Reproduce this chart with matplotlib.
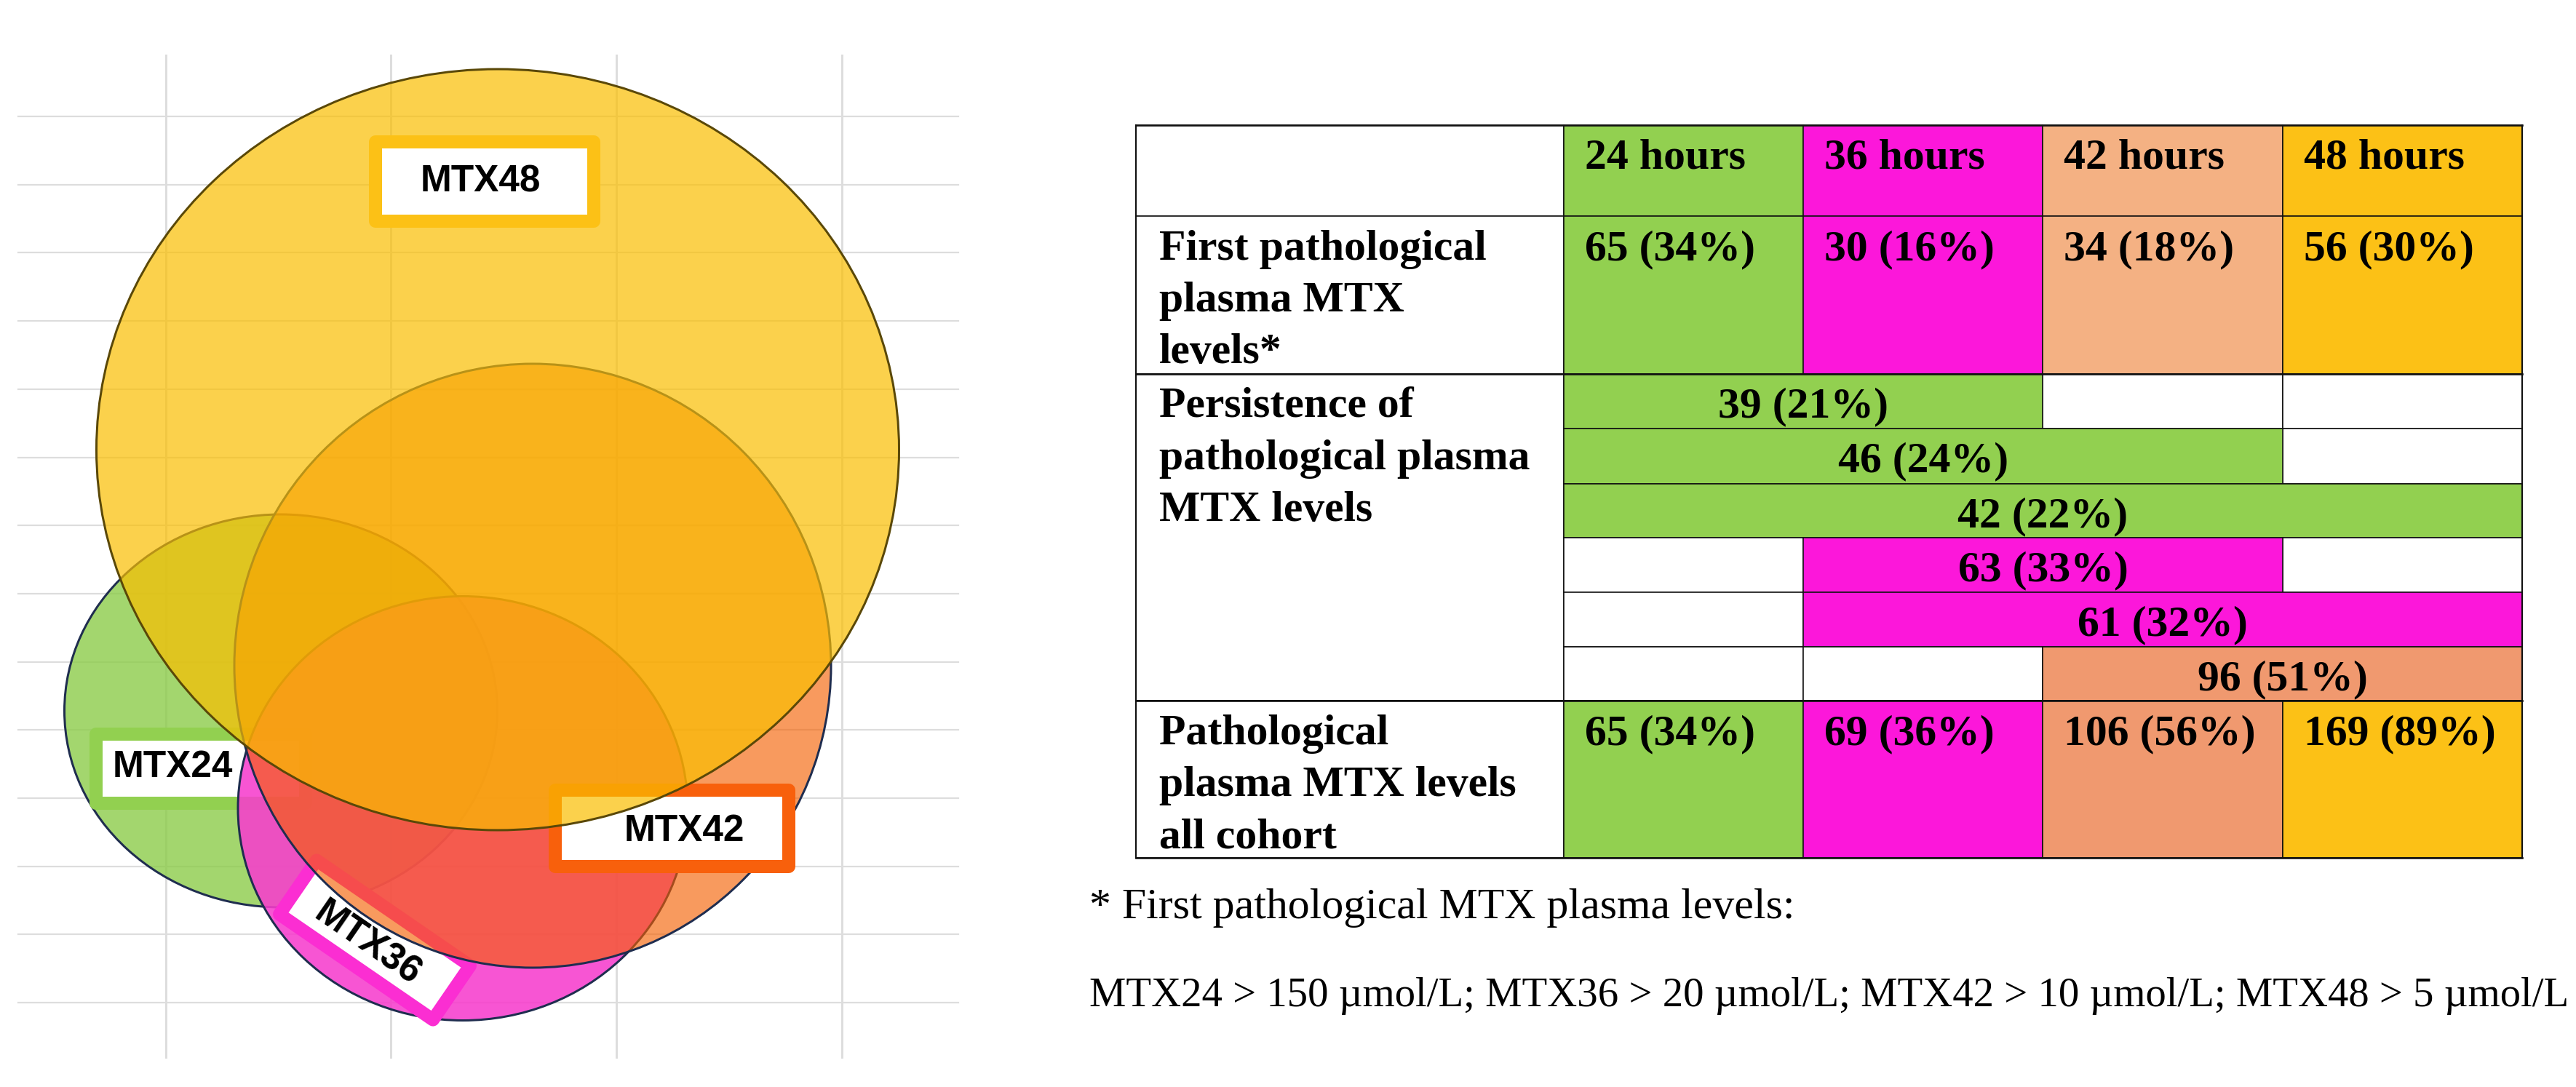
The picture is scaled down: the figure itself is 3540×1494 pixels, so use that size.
import matplotlib.pyplot as plt
from matplotlib.patches import Ellipse, Rectangle

# Dados da tabela
horas = ['24 hours', '36 hours', '42 hours', '48 hours']
primeiro_n = [65, 30, 34, 56]
primeiro_pct = [34, 16, 18, 30]
persist_n = [39, 46, 42, 63, 61, 96]
persist_pct = [21, 24, 22, 33, 32, 51]
persist_inicio = [0, 0, 0, 1, 1, 2]
persist_fim = [2, 3, 4, 3, 4, 4]
total_n = [65, 69, 106, 169]
total_pct = [34, 36, 56, 89]
limites = [150, 20, 10, 5]
rotulos_linhas = ['First pathological\nplasma MTX\nlevels*',
                  'Persistence of\npathological plasma\nMTX levels',
                  'Pathological\nplasma MTX levels\nall cohort']
rotulos_venn = ['MTX24', 'MTX36', 'MTX42', 'MTX48']

# Cores
verde = '#92D050'
magenta = '#FC17DA'
salmao_claro = '#F4B183'
salmao = '#F0996F'
amarelo = '#FCC116'
cores_cab = [verde, magenta, salmao_claro, amarelo]
cores_total = [verde, magenta, salmao, amarelo]
cores_persist = [verde, magenta, salmao]

PX = 0.72  # pixels -> pontos (dpi 100)

fig = plt.figure(figsize=(35.4, 14.94), dpi=100)
ax = fig.add_axes([0, 0, 1, 1])
ax.set_xlim(0, 3540)
ax.set_ylim(1494, 0)
ax.axis('off')

# ---------------- Diagrama (lado esquerdo) ----------------
# grade de fundo
for k in range(14):
    y = 160 + k * 93.7
    ax.plot([25, 1317], [y, y], color='#DDDDDD', lw=2.2 * PX, zorder=0)
for x in [228, 537, 847, 1157]:
    ax.plot([x, x], [76, 1453], color='#DDDDDD', lw=3 * PX, zorder=0)

# elipses: centro, largura, altura, cor, alfa, borda
elipses = [
    ((386, 977), 595, 540, '#8CCC4A', 0.80, '#1F2D4F'),
    ((636, 1111), 618, 583, '#F73DCD', 0.88, '#1F2D4F'),
    ((732, 915), 820, 830, '#F45F00', 0.63, '#1F2D4F'),
    ((684, 618), 1103, 1046, '#FABE00', 0.70, '#5A4808'),
]

def caixa(x0, y0, x1, y1, cor, ang=0, z=1):
    r = Rectangle((x0, y0), x1 - x0, y1 - y0, angle=ang, rotation_point='center',
                  facecolor='white', edgecolor=cor, lw=18 * PX, joinstyle='round', zorder=z)
    ax.add_patch(r)

def elipse(i, z):
    (c, w, h, cor, a, borda) = elipses[i]
    ax.add_patch(Ellipse(c, w, h, facecolor=cor, alpha=a, edgecolor='none', zorder=z))
    ax.add_patch(Ellipse(c, w, h, facecolor='none', edgecolor=borda, lw=3 * PX, zorder=z))

fonte_venn = dict(family='Liberation Sans', weight='bold', fontsize=37, color='black',
                  ha='center', va='center', zorder=10)

elipse(0, 1)                                                  # verde
caixa(132, 1009, 420, 1104, verde, z=2)
elipse(1, 3)                                                  # magenta
caixa(387, 1247, 643, 1337, '#FB2ED2', ang=34.5, z=4)
elipse(2, 5)                                                  # laranja
caixa(763, 1086, 1084, 1191, '#F8600C', z=6)
elipse(3, 7)                                                  # amarelo
caixa(516, 195, 816, 304, amarelo, z=8)

ax.text(237, 1055, rotulos_venn[0], **fonte_venn)
ax.text(505, 1297, rotulos_venn[1], rotation=-34.5, rotation_mode='anchor', **fonte_venn)
ax.text(940, 1143, rotulos_venn[2], **fonte_venn)
ax.text(660, 250, rotulos_venn[3], **fonte_venn)

# ---------------- Tabela (lado direito) ----------------
colunas = [1561, 2149, 2478, 2807, 3137, 3466]
linhas = [172, 297, 514, 589, 665, 739, 814, 889, 963, 1179]
fonte_tab = dict(family='Liberation Serif', weight='bold', fontsize=43, color='black',
                 va='baseline', zorder=12)
LW = 1.6 * PX

def celula(x0, x1, y0, y1, cor):
    ax.add_patch(Rectangle((x0, y0), x1 - x0, y1 - y0, facecolor=cor,
                           edgecolor='#111111', lw=LW, zorder=11))

def texto_multi(x, topo, s):
    for i, parte in enumerate(s.split('\n')):
        ax.text(x, topo + 60 + i * 71, parte, ha='left', **fonte_tab)

# cabeçalho
celula(colunas[0], colunas[1], linhas[0], linhas[1], 'white')
for j, h in enumerate(horas):
    celula(colunas[j + 1], colunas[j + 2], linhas[0], linhas[1], cores_cab[j])
    texto_multi(colunas[j + 1] + 29, linhas[0], h)

# primeiros níveis patológicos
celula(colunas[0], colunas[1], linhas[1], linhas[2], 'white')
texto_multi(colunas[0] + 32, linhas[1], rotulos_linhas[0])
for j in range(4):
    celula(colunas[j + 1], colunas[j + 2], linhas[1], linhas[2], cores_cab[j])
    texto_multi(colunas[j + 1] + 29, linhas[1], f'{primeiro_n[j]} ({primeiro_pct[j]}%)')

# persistência
celula(colunas[0], colunas[1], linhas[2], linhas[8], 'white')
texto_multi(colunas[0] + 32, linhas[2], rotulos_linhas[1])
for i in range(6):
    y0, y1 = linhas[2 + i], linhas[3 + i]
    a, b = persist_inicio[i], persist_fim[i]
    for j in range(4):
        if j < a or j >= b:
            celula(colunas[j + 1], colunas[j + 2], y0, y1, 'white')
    celula(colunas[a + 1], colunas[b + 1], y0, y1, cores_persist[a])
    xc = (colunas[a + 1] + colunas[b + 1]) / 2
    ax.text(xc, y0 + 59, f'{persist_n[i]} ({persist_pct[i]}%)', ha='center', **fonte_tab)

# coorte total
celula(colunas[0], colunas[1], linhas[8], linhas[9], 'white')
texto_multi(colunas[0] + 32, linhas[8], rotulos_linhas[2])
for j in range(4):
    celula(colunas[j + 1], colunas[j + 2], linhas[8], linhas[9], cores_total[j])
    texto_multi(colunas[j + 1] + 29, linhas[8], f'{total_n[j]} ({total_pct[j]}%)')

# separadores mais grossos entre grupos
for y in [linhas[0], linhas[2], linhas[8], linhas[9]]:
    ax.plot([colunas[0], colunas[-1]], [y, y], color='#111111', lw=2.6 * PX, zorder=13)
for x in [colunas[0], colunas[-1]]:
    ax.plot([x, x], [linhas[0], linhas[-1]], color='#111111', lw=2.2 * PX, zorder=13)

# nota de rodapé
fonte_nota = dict(family='Liberation Serif', fontsize=43, color='black', ha='left', va='baseline')
ax.text(1497, 1262, '* First pathological MTX plasma levels:', **fonte_nota)
nota = '; '.join(f'{r} > {v} µmol/L' for r, v in zip(rotulos_venn, limites))
t = ax.text(1497, 1383, nota, **fonte_nota)

# ajusta a segunda linha para caber na largura do original
fig.canvas.draw()
largura = t.get_window_extent().width
t.set_fontsize(43 * min(1.0, 2035 / largura))

fig.savefig('out.png', dpi=100)
